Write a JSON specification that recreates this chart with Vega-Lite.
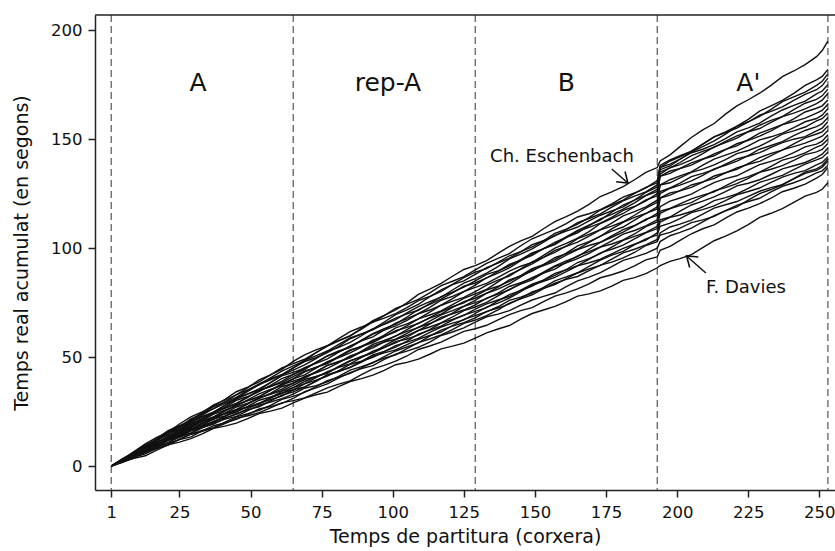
{
"$schema":"https://vega.github.io/schema/vega-lite/v6.json",
"width":740,"height":475,
"autosize":{"type":"none"},
"padding":{"left":95,"top":15,"right":0,"bottom":61},
"background":"white",
"config":{"view":{"stroke":null},"font":"DejaVu Sans",
"axis":{"grid":false,"domainColor":"#222","domainWidth":1.5,"tickColor":"#222","tickWidth":1.5,"tickSize":7,"labelColor":"#111","titleColor":"#111","labelFont":"DejaVu Sans","titleFont":"DejaVu Sans","labelFontSize":16.5,"titleFontSize":19,"titleFontWeight":"normal"}},
"datasets":{
"bounds":[{"x":1},{"x":65},{"x":129},{"x":193},{"x":253}],
"sections":[{"s":"A","mid":31.5},{"s":"rep-A","mid":98.3},{"s":"B","mid":161},{"s":"A'","mid":225}],
"notes":[{"who":"Ch. Eschenbach","lx":159.5,"ly":141.7,"x0":177,"y0":136.3,"x1":182.7,"y1":129.9},{"who":"F. Davies","lx":224.2,"ly":81.7,"x0":210.1,"y0":88.6,"x1":203.3,"y1":96.4}],
"perf":[
{"p":1,"x":1,"t":0},{"p":1,"x":9,"t":6.6},{"p":1,"x":17,"t":13.2},{"p":1,"x":25,"t":19.3},{"p":1,"x":33,"t":24.9},{"p":1,"x":41,"t":30.6},{"p":1,"x":49,"t":36.2},{"p":1,"x":57,"t":41.8},{"p":1,"x":65,"t":47},{"p":1,"x":73,"t":52},{"p":1,"x":81,"t":57.4},{"p":1,"x":89,"t":63.2},{"p":1,"x":97,"t":69.1},{"p":1,"x":105,"t":74.9},{"p":1,"x":113,"t":81.2},{"p":1,"x":121,"t":87.1},{"p":1,"x":129,"t":92},{"p":1,"x":137,"t":97.6},{"p":1,"x":145,"t":103.3},{"p":1,"x":153,"t":108.9},{"p":1,"x":161,"t":114.5},{"p":1,"x":169,"t":120.1},{"p":1,"x":177,"t":125.8},{"p":1,"x":185,"t":131.4},{"p":1,"x":193,"t":137},{"p":1,"x":194,"t":140},{"p":1,"x":201,"t":146.6},{"p":1,"x":209,"t":154.3},{"p":1,"x":217,"t":161.5},{"p":1,"x":225,"t":168.1},{"p":1,"x":233,"t":174.7},{"p":1,"x":241,"t":181.3},{"p":1,"x":249,"t":187.9},{"p":1,"x":253,"t":195},
{"p":2,"x":1,"t":0},{"p":2,"x":9,"t":5.8},{"p":2,"x":17,"t":12},{"p":2,"x":25,"t":18.2},{"p":2,"x":33,"t":24.5},{"p":2,"x":41,"t":30.2},{"p":2,"x":49,"t":36},{"p":2,"x":57,"t":41.8},{"p":2,"x":65,"t":48},{"p":2,"x":73,"t":53.3},{"p":2,"x":81,"t":58.5},{"p":2,"x":89,"t":63.8},{"p":2,"x":97,"t":69},{"p":2,"x":105,"t":74.3},{"p":2,"x":113,"t":79.5},{"p":2,"x":121,"t":84.8},{"p":2,"x":129,"t":90},{"p":2,"x":137,"t":95.3},{"p":2,"x":145,"t":101.1},{"p":2,"x":153,"t":106.4},{"p":2,"x":161,"t":111.3},{"p":2,"x":169,"t":115.8},{"p":2,"x":177,"t":120.3},{"p":2,"x":185,"t":125.3},{"p":2,"x":193,"t":131},{"p":2,"x":194,"t":138},{"p":2,"x":201,"t":142.4},{"p":2,"x":209,"t":147.7},{"p":2,"x":217,"t":153.4},{"p":2,"x":225,"t":159.1},{"p":2,"x":233,"t":165.3},{"p":2,"x":241,"t":171},{"p":2,"x":249,"t":177.2},{"p":2,"x":253,"t":182},
{"p":3,"x":1,"t":0},{"p":3,"x":9,"t":6},{"p":3,"x":17,"t":12},{"p":3,"x":25,"t":17.9},{"p":3,"x":33,"t":23.9},{"p":3,"x":41,"t":29.4},{"p":3,"x":49,"t":35},{"p":3,"x":57,"t":40.5},{"p":3,"x":65,"t":46},{"p":3,"x":73,"t":52},{"p":3,"x":81,"t":57.6},{"p":3,"x":89,"t":62.8},{"p":3,"x":97,"t":67.9},{"p":3,"x":105,"t":72.7},{"p":3,"x":113,"t":77.8},{"p":3,"x":121,"t":83.4},{"p":3,"x":129,"t":89},{"p":3,"x":137,"t":93.5},{"p":3,"x":145,"t":98.4},{"p":3,"x":153,"t":103.4},{"p":3,"x":161,"t":108.7},{"p":3,"x":169,"t":114},{"p":3,"x":177,"t":119.8},{"p":3,"x":185,"t":125.1},{"p":3,"x":193,"t":130},{"p":3,"x":194,"t":136},{"p":3,"x":201,"t":140.8},{"p":3,"x":209,"t":146.6},{"p":3,"x":217,"t":152.3},{"p":3,"x":225,"t":158},{"p":3,"x":233,"t":163.7},{"p":3,"x":241,"t":169.4},{"p":3,"x":249,"t":174.7},{"p":3,"x":253,"t":180},
{"p":4,"x":1,"t":0},{"p":4,"x":9,"t":6.3},{"p":4,"x":17,"t":12.6},{"p":4,"x":25,"t":18.5},{"p":4,"x":33,"t":23.9},{"p":4,"x":41,"t":29.3},{"p":4,"x":49,"t":34.7},{"p":4,"x":57,"t":40.1},{"p":4,"x":65,"t":45},{"p":4,"x":73,"t":49.7},{"p":4,"x":81,"t":54.9},{"p":4,"x":89,"t":60.5},{"p":4,"x":97,"t":66.1},{"p":4,"x":105,"t":71.7},{"p":4,"x":113,"t":77.7},{"p":4,"x":121,"t":83.3},{"p":4,"x":129,"t":88},{"p":4,"x":137,"t":93.1},{"p":4,"x":145,"t":98.3},{"p":4,"x":153,"t":103.4},{"p":4,"x":161,"t":108.5},{"p":4,"x":169,"t":113.6},{"p":4,"x":177,"t":118.8},{"p":4,"x":185,"t":123.9},{"p":4,"x":193,"t":129},{"p":4,"x":194,"t":137},{"p":4,"x":201,"t":141.9},{"p":4,"x":209,"t":147.7},{"p":4,"x":217,"t":153},{"p":4,"x":225,"t":157.9},{"p":4,"x":233,"t":162.8},{"p":4,"x":241,"t":167.8},{"p":4,"x":249,"t":172.7},{"p":4,"x":253,"t":178},
{"p":5,"x":1,"t":0},{"p":5,"x":9,"t":5.3},{"p":5,"x":17,"t":11},{"p":5,"x":25,"t":16.7},{"p":5,"x":33,"t":22.4},{"p":5,"x":41,"t":27.7},{"p":5,"x":49,"t":33},{"p":5,"x":57,"t":38.3},{"p":5,"x":65,"t":44},{"p":5,"x":73,"t":49.3},{"p":5,"x":81,"t":54.5},{"p":5,"x":89,"t":59.8},{"p":5,"x":97,"t":65},{"p":5,"x":105,"t":70.3},{"p":5,"x":113,"t":75.5},{"p":5,"x":121,"t":80.8},{"p":5,"x":129,"t":86},{"p":5,"x":137,"t":91.5},{"p":5,"x":145,"t":97.3},{"p":5,"x":153,"t":102.8},{"p":5,"x":161,"t":107.8},{"p":5,"x":169,"t":112.5},{"p":5,"x":177,"t":117.1},{"p":5,"x":185,"t":122.1},{"p":5,"x":193,"t":128},{"p":5,"x":194,"t":137},{"p":5,"x":201,"t":140.8},{"p":5,"x":209,"t":145.4},{"p":5,"x":217,"t":150.3},{"p":5,"x":225,"t":155.2},{"p":5,"x":233,"t":160.6},{"p":5,"x":241,"t":165.5},{"p":5,"x":249,"t":170.8},{"p":5,"x":253,"t":175},
{"p":6,"x":1,"t":0},{"p":6,"x":9,"t":5.9},{"p":6,"x":17,"t":11.7},{"p":6,"x":25,"t":17.6},{"p":6,"x":33,"t":23.4},{"p":6,"x":41,"t":28.8},{"p":6,"x":49,"t":34.2},{"p":6,"x":57,"t":39.6},{"p":6,"x":65,"t":45},{"p":6,"x":73,"t":50.6},{"p":6,"x":81,"t":55.8},{"p":6,"x":89,"t":60.6},{"p":6,"x":97,"t":65.4},{"p":6,"x":105,"t":69.8},{"p":6,"x":113,"t":74.6},{"p":6,"x":121,"t":79.8},{"p":6,"x":129,"t":85},{"p":6,"x":137,"t":89.6},{"p":6,"x":145,"t":94.7},{"p":6,"x":153,"t":99.7},{"p":6,"x":161,"t":105.2},{"p":6,"x":169,"t":110.6},{"p":6,"x":177,"t":116.5},{"p":6,"x":185,"t":122},{"p":6,"x":193,"t":127},{"p":6,"x":194,"t":134},{"p":6,"x":201,"t":138.3},{"p":6,"x":209,"t":143.4},{"p":6,"x":217,"t":148.4},{"p":6,"x":225,"t":153.5},{"p":6,"x":233,"t":158.6},{"p":6,"x":241,"t":163.6},{"p":6,"x":249,"t":168.3},{"p":6,"x":253,"t":173},
{"p":7,"x":1,"t":0},{"p":7,"x":9,"t":6},{"p":7,"x":17,"t":12},{"p":7,"x":25,"t":17.6},{"p":7,"x":33,"t":22.8},{"p":7,"x":41,"t":28},{"p":7,"x":49,"t":33.1},{"p":7,"x":57,"t":38.3},{"p":7,"x":65,"t":43},{"p":7,"x":73,"t":47.5},{"p":7,"x":81,"t":52.4},{"p":7,"x":89,"t":57.8},{"p":7,"x":97,"t":63.1},{"p":7,"x":105,"t":68.4},{"p":7,"x":113,"t":74.2},{"p":7,"x":121,"t":79.5},{"p":7,"x":129,"t":84},{"p":7,"x":137,"t":89.3},{"p":7,"x":145,"t":94.5},{"p":7,"x":153,"t":99.8},{"p":7,"x":161,"t":105},{"p":7,"x":169,"t":110.3},{"p":7,"x":177,"t":115.5},{"p":7,"x":185,"t":120.8},{"p":7,"x":193,"t":126},{"p":7,"x":194,"t":135},{"p":7,"x":201,"t":139.3},{"p":7,"x":209,"t":144.4},{"p":7,"x":217,"t":149},{"p":7,"x":225,"t":153.4},{"p":7,"x":233,"t":157.7},{"p":7,"x":241,"t":162},{"p":7,"x":249,"t":166.3},{"p":7,"x":253,"t":171},
{"p":8,"x":1,"t":0},{"p":8,"x":9,"t":5},{"p":8,"x":17,"t":10.5},{"p":8,"x":25,"t":16},{"p":8,"x":33,"t":21.4},{"p":8,"x":41,"t":26.5},{"p":8,"x":49,"t":31.5},{"p":8,"x":57,"t":36.5},{"p":8,"x":65,"t":42},{"p":8,"x":73,"t":47.1},{"p":8,"x":81,"t":52.3},{"p":8,"x":89,"t":57.4},{"p":8,"x":97,"t":62.5},{"p":8,"x":105,"t":67.6},{"p":8,"x":113,"t":72.8},{"p":8,"x":121,"t":77.9},{"p":8,"x":129,"t":83},{"p":8,"x":137,"t":88.5},{"p":8,"x":145,"t":94.3},{"p":8,"x":153,"t":99.8},{"p":8,"x":161,"t":104.8},{"p":8,"x":169,"t":109.5},{"p":8,"x":177,"t":114.1},{"p":8,"x":185,"t":119.1},{"p":8,"x":193,"t":125},{"p":8,"x":194,"t":133},{"p":8,"x":201,"t":136.5},{"p":8,"x":209,"t":140.7},{"p":8,"x":217,"t":145.3},{"p":8,"x":225,"t":149.8},{"p":8,"x":233,"t":154.7},{"p":8,"x":241,"t":159.3},{"p":8,"x":249,"t":164.2},{"p":8,"x":253,"t":168},
{"p":9,"x":1,"t":0},{"p":9,"x":9,"t":5.5},{"p":9,"x":17,"t":10.9},{"p":9,"x":25,"t":16.4},{"p":9,"x":33,"t":21.8},{"p":9,"x":41,"t":26.9},{"p":9,"x":49,"t":31.9},{"p":9,"x":57,"t":37},{"p":9,"x":65,"t":42},{"p":9,"x":73,"t":47.6},{"p":9,"x":81,"t":52.8},{"p":9,"x":89,"t":57.6},{"p":9,"x":97,"t":62.4},{"p":9,"x":105,"t":66.8},{"p":9,"x":113,"t":71.6},{"p":9,"x":121,"t":76.8},{"p":9,"x":129,"t":82},{"p":9,"x":137,"t":86.6},{"p":9,"x":145,"t":91.7},{"p":9,"x":153,"t":96.7},{"p":9,"x":161,"t":102.2},{"p":9,"x":169,"t":107.6},{"p":9,"x":177,"t":113.5},{"p":9,"x":185,"t":119},{"p":9,"x":193,"t":124},{"p":9,"x":194,"t":133},{"p":9,"x":201,"t":136.6},{"p":9,"x":209,"t":140.9},{"p":9,"x":217,"t":145.2},{"p":9,"x":225,"t":149.5},{"p":9,"x":233,"t":153.8},{"p":9,"x":241,"t":158.1},{"p":9,"x":249,"t":162},{"p":9,"x":253,"t":166},
{"p":10,"x":1,"t":0},{"p":10,"x":9,"t":5.7},{"p":10,"x":17,"t":11.5},{"p":10,"x":25,"t":16.8},{"p":10,"x":33,"t":21.7},{"p":10,"x":41,"t":26.7},{"p":10,"x":49,"t":31.6},{"p":10,"x":57,"t":36.5},{"p":10,"x":65,"t":41},{"p":10,"x":73,"t":45.3},{"p":10,"x":81,"t":50},{"p":10,"x":89,"t":55},{"p":10,"x":97,"t":60.1},{"p":10,"x":105,"t":65.2},{"p":10,"x":113,"t":70.6},{"p":10,"x":121,"t":75.7},{"p":10,"x":129,"t":80},{"p":10,"x":137,"t":85.3},{"p":10,"x":145,"t":90.5},{"p":10,"x":153,"t":95.8},{"p":10,"x":161,"t":101},{"p":10,"x":169,"t":106.3},{"p":10,"x":177,"t":111.5},{"p":10,"x":185,"t":116.8},{"p":10,"x":193,"t":122},{"p":10,"x":194,"t":129},{"p":10,"x":201,"t":133.2},{"p":10,"x":209,"t":138.1},{"p":10,"x":217,"t":142.7},{"p":10,"x":225,"t":146.9},{"p":10,"x":233,"t":151.1},{"p":10,"x":241,"t":155.3},{"p":10,"x":249,"t":159.5},{"p":10,"x":253,"t":164},
{"p":11,"x":1,"t":0},{"p":11,"x":9,"t":4.8},{"p":11,"x":17,"t":10},{"p":11,"x":25,"t":15.2},{"p":11,"x":33,"t":20.4},{"p":11,"x":41,"t":25.2},{"p":11,"x":49,"t":30},{"p":11,"x":57,"t":34.8},{"p":11,"x":65,"t":40},{"p":11,"x":73,"t":44.9},{"p":11,"x":81,"t":49.8},{"p":11,"x":89,"t":54.6},{"p":11,"x":97,"t":59.5},{"p":11,"x":105,"t":64.4},{"p":11,"x":113,"t":69.3},{"p":11,"x":121,"t":74.1},{"p":11,"x":129,"t":79},{"p":11,"x":137,"t":84.5},{"p":11,"x":145,"t":90.3},{"p":11,"x":153,"t":95.8},{"p":11,"x":161,"t":100.8},{"p":11,"x":169,"t":105.5},{"p":11,"x":177,"t":110.1},{"p":11,"x":185,"t":115.1},{"p":11,"x":193,"t":121},{"p":11,"x":194,"t":129},{"p":11,"x":201,"t":132.3},{"p":11,"x":209,"t":136.3},{"p":11,"x":217,"t":140.6},{"p":11,"x":225,"t":144.8},{"p":11,"x":233,"t":149.5},{"p":11,"x":241,"t":153.8},{"p":11,"x":249,"t":158.4},{"p":11,"x":253,"t":162},
{"p":12,"x":1,"t":0},{"p":12,"x":9,"t":5.2},{"p":12,"x":17,"t":10.4},{"p":12,"x":25,"t":15.6},{"p":12,"x":33,"t":20.8},{"p":12,"x":41,"t":25.6},{"p":12,"x":49,"t":30.4},{"p":12,"x":57,"t":35.2},{"p":12,"x":65,"t":40},{"p":12,"x":73,"t":45.3},{"p":12,"x":81,"t":50.3},{"p":12,"x":89,"t":54.8},{"p":12,"x":97,"t":59.4},{"p":12,"x":105,"t":63.6},{"p":12,"x":113,"t":68.1},{"p":12,"x":121,"t":73.1},{"p":12,"x":129,"t":78},{"p":12,"x":137,"t":82.5},{"p":12,"x":145,"t":87.4},{"p":12,"x":153,"t":92.4},{"p":12,"x":161,"t":97.7},{"p":12,"x":169,"t":103},{"p":12,"x":177,"t":108.8},{"p":12,"x":185,"t":114.1},{"p":12,"x":193,"t":119},{"p":12,"x":194,"t":125},{"p":12,"x":201,"t":128.9},{"p":12,"x":209,"t":133.4},{"p":12,"x":217,"t":138},{"p":12,"x":225,"t":142.5},{"p":12,"x":233,"t":147.1},{"p":12,"x":241,"t":151.6},{"p":12,"x":249,"t":155.8},{"p":12,"x":253,"t":160},
{"p":13,"x":1,"t":0},{"p":13,"x":9,"t":5.5},{"p":13,"x":17,"t":10.9},{"p":13,"x":25,"t":16},{"p":13,"x":33,"t":20.7},{"p":13,"x":41,"t":25.4},{"p":13,"x":49,"t":30},{"p":13,"x":57,"t":34.7},{"p":13,"x":65,"t":39},{"p":13,"x":73,"t":43.2},{"p":13,"x":81,"t":47.7},{"p":13,"x":89,"t":52.7},{"p":13,"x":97,"t":57.6},{"p":13,"x":105,"t":62.6},{"p":13,"x":113,"t":67.9},{"p":13,"x":121,"t":72.8},{"p":13,"x":129,"t":77},{"p":13,"x":137,"t":82.1},{"p":13,"x":145,"t":87.3},{"p":13,"x":153,"t":92.4},{"p":13,"x":161,"t":97.5},{"p":13,"x":169,"t":102.6},{"p":13,"x":177,"t":107.8},{"p":13,"x":185,"t":112.9},{"p":13,"x":193,"t":118},{"p":13,"x":194,"t":126},{"p":13,"x":201,"t":129.8},{"p":13,"x":209,"t":134.3},{"p":13,"x":217,"t":138.5},{"p":13,"x":225,"t":142.3},{"p":13,"x":233,"t":146.2},{"p":13,"x":241,"t":150},{"p":13,"x":249,"t":153.8},{"p":13,"x":253,"t":158},
{"p":14,"x":1,"t":0},{"p":14,"x":9,"t":4.6},{"p":14,"x":17,"t":9.5},{"p":14,"x":25,"t":14.4},{"p":14,"x":33,"t":19.4},{"p":14,"x":41,"t":23.9},{"p":14,"x":49,"t":28.5},{"p":14,"x":57,"t":33.1},{"p":14,"x":65,"t":38},{"p":14,"x":73,"t":42.8},{"p":14,"x":81,"t":47.5},{"p":14,"x":89,"t":52.3},{"p":14,"x":97,"t":57},{"p":14,"x":105,"t":61.8},{"p":14,"x":113,"t":66.5},{"p":14,"x":121,"t":71.3},{"p":14,"x":129,"t":76},{"p":14,"x":137,"t":81.2},{"p":14,"x":145,"t":86.8},{"p":14,"x":153,"t":92},{"p":14,"x":161,"t":96.8},{"p":14,"x":169,"t":101.2},{"p":14,"x":177,"t":105.6},{"p":14,"x":185,"t":110.4},{"p":14,"x":193,"t":116},{"p":14,"x":194,"t":123},{"p":14,"x":201,"t":126.3},{"p":14,"x":209,"t":130.3},{"p":14,"x":217,"t":134.6},{"p":14,"x":225,"t":138.8},{"p":14,"x":233,"t":143.5},{"p":14,"x":241,"t":147.8},{"p":14,"x":249,"t":152.4},{"p":14,"x":253,"t":156},
{"p":15,"x":1,"t":0},{"p":15,"x":9,"t":4.9},{"p":15,"x":17,"t":9.9},{"p":15,"x":25,"t":14.8},{"p":15,"x":33,"t":19.8},{"p":15,"x":41,"t":24.3},{"p":15,"x":49,"t":28.9},{"p":15,"x":57,"t":33.4},{"p":15,"x":65,"t":38},{"p":15,"x":73,"t":43.2},{"p":15,"x":81,"t":48},{"p":15,"x":89,"t":52.4},{"p":15,"x":97,"t":56.9},{"p":15,"x":105,"t":60.9},{"p":15,"x":113,"t":65.4},{"p":15,"x":121,"t":70.2},{"p":15,"x":129,"t":75},{"p":15,"x":137,"t":79.4},{"p":15,"x":145,"t":84.2},{"p":15,"x":153,"t":89},{"p":15,"x":161,"t":94.2},{"p":15,"x":169,"t":99.4},{"p":15,"x":177,"t":105},{"p":15,"x":185,"t":110.2},{"p":15,"x":193,"t":115},{"p":15,"x":194,"t":123},{"p":15,"x":201,"t":126.4},{"p":15,"x":209,"t":130.4},{"p":15,"x":217,"t":134.5},{"p":15,"x":225,"t":138.5},{"p":15,"x":233,"t":142.5},{"p":15,"x":241,"t":146.6},{"p":15,"x":249,"t":150.3},{"p":15,"x":253,"t":154},
{"p":16,"x":1,"t":0},{"p":16,"x":9,"t":5.2},{"p":16,"x":17,"t":10.4},{"p":16,"x":25,"t":15.2},{"p":16,"x":33,"t":19.6},{"p":16,"x":41,"t":24.1},{"p":16,"x":49,"t":28.5},{"p":16,"x":57,"t":32.9},{"p":16,"x":65,"t":37},{"p":16,"x":73,"t":41.1},{"p":16,"x":81,"t":45.5},{"p":16,"x":89,"t":50.3},{"p":16,"x":97,"t":55.1},{"p":16,"x":105,"t":59.9},{"p":16,"x":113,"t":65.1},{"p":16,"x":121,"t":69.9},{"p":16,"x":129,"t":74},{"p":16,"x":137,"t":78.9},{"p":16,"x":145,"t":83.8},{"p":16,"x":153,"t":88.6},{"p":16,"x":161,"t":93.5},{"p":16,"x":169,"t":98.4},{"p":16,"x":177,"t":103.3},{"p":16,"x":185,"t":108.1},{"p":16,"x":193,"t":113},{"p":16,"x":194,"t":119},{"p":16,"x":201,"t":123},{"p":16,"x":209,"t":127.6},{"p":16,"x":217,"t":131.9},{"p":16,"x":225,"t":135.8},{"p":16,"x":233,"t":139.8},{"p":16,"x":241,"t":143.8},{"p":16,"x":249,"t":147.7},{"p":16,"x":253,"t":152},
{"p":17,"x":1,"t":0},{"p":17,"x":9,"t":4.3},{"p":17,"x":17,"t":9},{"p":17,"x":25,"t":13.7},{"p":17,"x":33,"t":18.4},{"p":17,"x":41,"t":22.7},{"p":17,"x":49,"t":27},{"p":17,"x":57,"t":31.3},{"p":17,"x":65,"t":36},{"p":17,"x":73,"t":40.6},{"p":17,"x":81,"t":45.3},{"p":17,"x":89,"t":49.9},{"p":17,"x":97,"t":54.5},{"p":17,"x":105,"t":59.1},{"p":17,"x":113,"t":63.8},{"p":17,"x":121,"t":68.4},{"p":17,"x":129,"t":73},{"p":17,"x":137,"t":78.1},{"p":17,"x":145,"t":83.5},{"p":17,"x":153,"t":88.6},{"p":17,"x":161,"t":93.3},{"p":17,"x":169,"t":97.6},{"p":17,"x":177,"t":101.9},{"p":17,"x":185,"t":106.5},{"p":17,"x":193,"t":112},{"p":17,"x":194,"t":117},{"p":17,"x":201,"t":120.3},{"p":17,"x":209,"t":124.3},{"p":17,"x":217,"t":128.6},{"p":17,"x":225,"t":132.8},{"p":17,"x":233,"t":137.5},{"p":17,"x":241,"t":141.8},{"p":17,"x":249,"t":146.4},{"p":17,"x":253,"t":150},
{"p":18,"x":1,"t":0},{"p":18,"x":9,"t":4.7},{"p":18,"x":17,"t":9.4},{"p":18,"x":25,"t":14},{"p":18,"x":33,"t":18.7},{"p":18,"x":41,"t":23},{"p":18,"x":49,"t":27.4},{"p":18,"x":57,"t":31.7},{"p":18,"x":65,"t":36},{"p":18,"x":73,"t":41},{"p":18,"x":81,"t":45.7},{"p":18,"x":89,"t":50},{"p":18,"x":97,"t":54.4},{"p":18,"x":105,"t":58.3},{"p":18,"x":113,"t":62.6},{"p":18,"x":121,"t":67.3},{"p":18,"x":129,"t":72},{"p":18,"x":137,"t":76.2},{"p":18,"x":145,"t":80.7},{"p":18,"x":153,"t":85.3},{"p":18,"x":161,"t":90.2},{"p":18,"x":169,"t":95.2},{"p":18,"x":177,"t":100.5},{"p":18,"x":185,"t":105.4},{"p":18,"x":193,"t":110},{"p":18,"x":194,"t":116},{"p":18,"x":201,"t":119.5},{"p":18,"x":209,"t":123.7},{"p":18,"x":217,"t":127.8},{"p":18,"x":225,"t":132},{"p":18,"x":233,"t":136.2},{"p":18,"x":241,"t":140.3},{"p":18,"x":249,"t":144.2},{"p":18,"x":253,"t":148},
{"p":19,"x":1,"t":0},{"p":19,"x":9,"t":4.9},{"p":19,"x":17,"t":9.8},{"p":19,"x":25,"t":14.4},{"p":19,"x":33,"t":18.6},{"p":19,"x":41,"t":22.8},{"p":19,"x":49,"t":27},{"p":19,"x":57,"t":31.2},{"p":19,"x":65,"t":35},{"p":19,"x":73,"t":39},{"p":19,"x":81,"t":43.3},{"p":19,"x":89,"t":48},{"p":19,"x":97,"t":52.6},{"p":19,"x":105,"t":57.3},{"p":19,"x":113,"t":62.4},{"p":19,"x":121,"t":67},{"p":19,"x":129,"t":71},{"p":19,"x":137,"t":75.8},{"p":19,"x":145,"t":80.5},{"p":19,"x":153,"t":85.3},{"p":19,"x":161,"t":90},{"p":19,"x":169,"t":94.8},{"p":19,"x":177,"t":99.5},{"p":19,"x":185,"t":104.3},{"p":19,"x":193,"t":109},{"p":19,"x":194,"t":113},{"p":19,"x":201,"t":117},{"p":19,"x":209,"t":121.6},{"p":19,"x":217,"t":125.9},{"p":19,"x":225,"t":129.8},{"p":19,"x":233,"t":133.8},{"p":19,"x":241,"t":137.8},{"p":19,"x":249,"t":141.7},{"p":19,"x":253,"t":146},
{"p":20,"x":1,"t":0},{"p":20,"x":9,"t":4.2},{"p":20,"x":17,"t":8.8},{"p":20,"x":25,"t":13.3},{"p":20,"x":33,"t":17.9},{"p":20,"x":41,"t":22.1},{"p":20,"x":49,"t":26.3},{"p":20,"x":57,"t":30.5},{"p":20,"x":65,"t":35},{"p":20,"x":73,"t":39.4},{"p":20,"x":81,"t":43.8},{"p":20,"x":89,"t":48.1},{"p":20,"x":97,"t":52.5},{"p":20,"x":105,"t":56.9},{"p":20,"x":113,"t":61.3},{"p":20,"x":121,"t":65.6},{"p":20,"x":129,"t":70},{"p":20,"x":137,"t":74.8},{"p":20,"x":145,"t":80},{"p":20,"x":153,"t":84.8},{"p":20,"x":161,"t":89.2},{"p":20,"x":169,"t":93.3},{"p":20,"x":177,"t":97.4},{"p":20,"x":185,"t":101.8},{"p":20,"x":193,"t":107},{"p":20,"x":194,"t":112},{"p":20,"x":201,"t":115.2},{"p":20,"x":209,"t":119},{"p":20,"x":217,"t":123.2},{"p":20,"x":225,"t":127.4},{"p":20,"x":233,"t":131.8},{"p":20,"x":241,"t":136},{"p":20,"x":249,"t":140.5},{"p":20,"x":253,"t":144},
{"p":21,"x":1,"t":0},{"p":21,"x":9,"t":4.4},{"p":21,"x":17,"t":8.8},{"p":21,"x":25,"t":13.3},{"p":21,"x":33,"t":17.7},{"p":21,"x":41,"t":21.8},{"p":21,"x":49,"t":25.8},{"p":21,"x":57,"t":29.9},{"p":21,"x":65,"t":34},{"p":21,"x":73,"t":38.9},{"p":21,"x":81,"t":43.5},{"p":21,"x":89,"t":47.7},{"p":21,"x":97,"t":51.9},{"p":21,"x":105,"t":55.7},{"p":21,"x":113,"t":59.9},{"p":21,"x":121,"t":64.5},{"p":21,"x":129,"t":69},{"p":21,"x":137,"t":73.1},{"p":21,"x":145,"t":77.5},{"p":21,"x":153,"t":82},{"p":21,"x":161,"t":86.8},{"p":21,"x":169,"t":91.6},{"p":21,"x":177,"t":96.8},{"p":21,"x":185,"t":101.6},{"p":21,"x":193,"t":106},{"p":21,"x":194,"t":110},{"p":21,"x":201,"t":113.5},{"p":21,"x":209,"t":117.7},{"p":21,"x":217,"t":121.8},{"p":21,"x":225,"t":126},{"p":21,"x":233,"t":130.2},{"p":21,"x":241,"t":134.3},{"p":21,"x":249,"t":138.2},{"p":21,"x":253,"t":142},
{"p":22,"x":1,"t":0},{"p":22,"x":9,"t":4.6},{"p":22,"x":17,"t":9.2},{"p":22,"x":25,"t":13.5},{"p":22,"x":33,"t":17.5},{"p":22,"x":41,"t":21.5},{"p":22,"x":49,"t":25.4},{"p":22,"x":57,"t":29.4},{"p":22,"x":65,"t":33},{"p":22,"x":73,"t":36.9},{"p":22,"x":81,"t":41.1},{"p":22,"x":89,"t":45.6},{"p":22,"x":97,"t":50.2},{"p":22,"x":105,"t":54.7},{"p":22,"x":113,"t":59.6},{"p":22,"x":121,"t":64.2},{"p":22,"x":129,"t":68},{"p":22,"x":137,"t":72.5},{"p":22,"x":145,"t":77},{"p":22,"x":153,"t":81.5},{"p":22,"x":161,"t":86},{"p":22,"x":169,"t":90.5},{"p":22,"x":177,"t":95},{"p":22,"x":185,"t":99.5},{"p":22,"x":193,"t":104},{"p":22,"x":194,"t":107},{"p":22,"x":201,"t":111},{"p":22,"x":209,"t":115.6},{"p":22,"x":217,"t":119.9},{"p":22,"x":225,"t":123.8},{"p":22,"x":233,"t":127.8},{"p":22,"x":241,"t":131.8},{"p":22,"x":249,"t":135.7},{"p":22,"x":253,"t":140},
{"p":23,"x":1,"t":0},{"p":23,"x":9,"t":3.8},{"p":23,"x":17,"t":8},{"p":23,"x":25,"t":12.2},{"p":23,"x":33,"t":16.3},{"p":23,"x":41,"t":20.2},{"p":23,"x":49,"t":24},{"p":23,"x":57,"t":27.8},{"p":23,"x":65,"t":32},{"p":23,"x":73,"t":36.4},{"p":23,"x":81,"t":40.8},{"p":23,"x":89,"t":45.1},{"p":23,"x":97,"t":49.5},{"p":23,"x":105,"t":53.9},{"p":23,"x":113,"t":58.3},{"p":23,"x":121,"t":62.6},{"p":23,"x":129,"t":67},{"p":23,"x":137,"t":71.7},{"p":23,"x":145,"t":76.7},{"p":23,"x":153,"t":81.4},{"p":23,"x":161,"t":85.7},{"p":23,"x":169,"t":89.7},{"p":23,"x":177,"t":93.6},{"p":23,"x":185,"t":98},{"p":23,"x":193,"t":103},{"p":23,"x":194,"t":106},{"p":23,"x":201,"t":109.2},{"p":23,"x":209,"t":113},{"p":23,"x":217,"t":117.2},{"p":23,"x":225,"t":121.4},{"p":23,"x":233,"t":125.8},{"p":23,"x":241,"t":130},{"p":23,"x":249,"t":134.5},{"p":23,"x":253,"t":138},
{"p":24,"x":1,"t":0},{"p":24,"x":9,"t":4},{"p":24,"x":17,"t":8.1},{"p":24,"x":25,"t":12.1},{"p":24,"x":33,"t":16.1},{"p":24,"x":41,"t":19.8},{"p":24,"x":49,"t":23.6},{"p":24,"x":57,"t":27.3},{"p":24,"x":65,"t":31},{"p":24,"x":73,"t":35.9},{"p":24,"x":81,"t":40.5},{"p":24,"x":89,"t":44.7},{"p":24,"x":97,"t":48.9},{"p":24,"x":105,"t":52.7},{"p":24,"x":113,"t":56.9},{"p":24,"x":121,"t":61.5},{"p":24,"x":129,"t":66},{"p":24,"x":137,"t":69.7},{"p":24,"x":145,"t":73.8},{"p":24,"x":153,"t":77.9},{"p":24,"x":161,"t":82.3},{"p":24,"x":169,"t":86.7},{"p":24,"x":177,"t":91.5},{"p":24,"x":185,"t":95.9},{"p":24,"x":193,"t":100},{"p":24,"x":194,"t":103},{"p":24,"x":201,"t":107.2},{"p":24,"x":209,"t":112.1},{"p":24,"x":217,"t":117.1},{"p":24,"x":225,"t":122},{"p":24,"x":233,"t":126.9},{"p":24,"x":241,"t":131.9},{"p":24,"x":249,"t":136.4},{"p":24,"x":253,"t":141},
{"p":25,"x":1,"t":0},{"p":25,"x":9,"t":4.2},{"p":25,"x":17,"t":8.4},{"p":25,"x":25,"t":12.3},{"p":25,"x":33,"t":15.9},{"p":25,"x":41,"t":19.5},{"p":25,"x":49,"t":23.1},{"p":25,"x":57,"t":26.7},{"p":25,"x":65,"t":30},{"p":25,"x":73,"t":33.6},{"p":25,"x":81,"t":37.6},{"p":25,"x":89,"t":41.9},{"p":25,"x":97,"t":46.2},{"p":25,"x":105,"t":50.5},{"p":25,"x":113,"t":55.1},{"p":25,"x":121,"t":59.4},{"p":25,"x":129,"t":63},{"p":25,"x":137,"t":67.1},{"p":25,"x":145,"t":71.3},{"p":25,"x":153,"t":75.4},{"p":25,"x":161,"t":79.5},{"p":25,"x":169,"t":83.6},{"p":25,"x":177,"t":87.8},{"p":25,"x":185,"t":91.9},{"p":25,"x":193,"t":96},{"p":25,"x":194,"t":99},{"p":25,"x":201,"t":103.6},{"p":25,"x":209,"t":108.9},{"p":25,"x":217,"t":113.8},{"p":25,"x":225,"t":118.4},{"p":25,"x":233,"t":122.9},{"p":25,"x":241,"t":127.5},{"p":25,"x":249,"t":132.1},{"p":25,"x":253,"t":137},
{"p":26,"x":1,"t":0},{"p":26,"x":9,"t":3.5},{"p":26,"x":17,"t":7.3},{"p":26,"x":25,"t":11},{"p":26,"x":33,"t":14.8},{"p":26,"x":41,"t":18.3},{"p":26,"x":49,"t":21.8},{"p":26,"x":57,"t":25.2},{"p":26,"x":65,"t":29},{"p":26,"x":73,"t":32.7},{"p":26,"x":81,"t":36.4},{"p":26,"x":89,"t":40.1},{"p":26,"x":97,"t":43.9},{"p":26,"x":105,"t":47.6},{"p":26,"x":113,"t":51.3},{"p":26,"x":121,"t":55},{"p":26,"x":129,"t":58.7},{"p":26,"x":137,"t":62.9},{"p":26,"x":145,"t":67.4},{"p":26,"x":153,"t":71.6},{"p":26,"x":161,"t":75.5},{"p":26,"x":169,"t":79},{"p":26,"x":177,"t":82.6},{"p":26,"x":185,"t":86.5},{"p":26,"x":193,"t":91},{"p":26,"x":194,"t":92},{"p":26,"x":201,"t":95.2},{"p":26,"x":209,"t":100.2},{"p":26,"x":217,"t":105.5},{"p":26,"x":225,"t":110.8},{"p":26,"x":233,"t":116},{"p":26,"x":241,"t":121},{"p":26,"x":249,"t":125.6},{"p":26,"x":253,"t":130},
{"p":1,"x":5,"t":3.1},{"p":1,"x":13,"t":10.2},{"p":1,"x":21,"t":15.6},{"p":1,"x":29,"t":22.6},{"p":1,"x":37,"t":27.5},{"p":1,"x":45,"t":34.1},{"p":1,"x":53,"t":38.6},{"p":1,"x":61,"t":45},{"p":1,"x":69,"t":49},{"p":1,"x":77,"t":55},{"p":1,"x":85,"t":59.6},{"p":1,"x":93,"t":66.7},{"p":1,"x":101,"t":71.7},{"p":1,"x":109,"t":78.8},{"p":1,"x":117,"t":83.8},{"p":1,"x":125,"t":90.2},{"p":1,"x":133,"t":94.3},{"p":1,"x":141,"t":100.8},{"p":1,"x":149,"t":105.4},{"p":1,"x":157,"t":112.2},{"p":1,"x":165,"t":117},{"p":1,"x":173,"t":123.7},{"p":1,"x":181,"t":128.2},{"p":1,"x":189,"t":134.8},{"p":1,"x":197.5,"t":142.8},{"p":1,"x":205,"t":150.8},{"p":1,"x":213,"t":157.2},{"p":1,"x":221,"t":165.3},{"p":1,"x":229,"t":171.1},{"p":1,"x":237,"t":178.7},{"p":1,"x":245,"t":184.2},{"p":1,"x":251,"t":190.7},
{"p":2,"x":5,"t":3.1},{"p":2,"x":13,"t":8.2},{"p":2,"x":21,"t":15.6},{"p":2,"x":29,"t":21.1},{"p":2,"x":37,"t":28.1},{"p":2,"x":45,"t":32.7},{"p":2,"x":53,"t":39.5},{"p":2,"x":61,"t":44.4},{"p":2,"x":69,"t":51},{"p":2,"x":77,"t":55.2},{"p":2,"x":85,"t":61.7},{"p":2,"x":93,"t":66.1},{"p":2,"x":101,"t":72.4},{"p":2,"x":109,"t":76.5},{"p":2,"x":117,"t":82.8},{"p":2,"x":125,"t":86.9},{"p":2,"x":133,"t":93},{"p":2,"x":141,"t":97.5},{"p":2,"x":149,"t":104.3},{"p":2,"x":157,"t":108.6},{"p":2,"x":165,"t":114.3},{"p":2,"x":173,"t":117.7},{"p":2,"x":181,"t":123.4},{"p":2,"x":189,"t":127.7},{"p":2,"x":197.5,"t":140.5},{"p":2,"x":205,"t":144.4},{"p":2,"x":213,"t":151.1},{"p":2,"x":221,"t":156},{"p":2,"x":229,"t":162.9},{"p":2,"x":237,"t":167.8},{"p":2,"x":245,"t":174.7},{"p":2,"x":251,"t":178.8},
{"p":3,"x":5,"t":2.7},{"p":3,"x":13,"t":9.5},{"p":3,"x":21,"t":14.7},{"p":3,"x":29,"t":21.6},{"p":3,"x":37,"t":26.3},{"p":3,"x":45,"t":32.8},{"p":3,"x":53,"t":37.3},{"p":3,"x":61,"t":43.6},{"p":3,"x":69,"t":48.3},{"p":3,"x":77,"t":55.3},{"p":3,"x":85,"t":59.9},{"p":3,"x":93,"t":66.1},{"p":3,"x":101,"t":69.9},{"p":3,"x":109,"t":75.9},{"p":3,"x":117,"t":80.1},{"p":3,"x":125,"t":86.5},{"p":3,"x":133,"t":90.6},{"p":3,"x":141,"t":96.5},{"p":3,"x":149,"t":100.6},{"p":3,"x":157,"t":106.8},{"p":3,"x":165,"t":111},{"p":3,"x":173,"t":117.5},{"p":3,"x":181,"t":122},{"p":3,"x":189,"t":127.9},{"p":3,"x":197.5,"t":137.7},{"p":3,"x":205,"t":144.2},{"p":3,"x":213,"t":149.2},{"p":3,"x":221,"t":155.9},{"p":3,"x":229,"t":160.5},{"p":3,"x":237,"t":167.2},{"p":3,"x":245,"t":171.6},{"p":3,"x":251,"t":176.6},
{"p":4,"x":5,"t":3.4},{"p":4,"x":13,"t":9.2},{"p":4,"x":21,"t":16.3},{"p":4,"x":29,"t":20.8},{"p":4,"x":37,"t":27.2},{"p":4,"x":45,"t":31.5},{"p":4,"x":53,"t":37.7},{"p":4,"x":61,"t":41.9},{"p":4,"x":69,"t":47.9},{"p":4,"x":77,"t":52},{"p":4,"x":85,"t":58.4},{"p":4,"x":93,"t":62.9},{"p":4,"x":101,"t":69.5},{"p":4,"x":109,"t":74.2},{"p":4,"x":117,"t":80.8},{"p":4,"x":125,"t":85},{"p":4,"x":133,"t":91.1},{"p":4,"x":141,"t":95.4},{"p":4,"x":149,"t":101.6},{"p":4,"x":157,"t":105.6},{"p":4,"x":165,"t":111.7},{"p":4,"x":173,"t":115.7},{"p":4,"x":181,"t":121.7},{"p":4,"x":189,"t":125.8},{"p":4,"x":197.5,"t":140},{"p":4,"x":205,"t":144.5},{"p":4,"x":213,"t":151.1},{"p":4,"x":221,"t":155.1},{"p":4,"x":229,"t":161},{"p":4,"x":237,"t":164.8},{"p":4,"x":245,"t":170.6},{"p":4,"x":251,"t":174.6},
{"p":5,"x":5,"t":2.5},{"p":5,"x":13,"t":8.9},{"p":5,"x":21,"t":13.5},{"p":5,"x":29,"t":20.2},{"p":5,"x":37,"t":24.6},{"p":5,"x":45,"t":30.7},{"p":5,"x":53,"t":35},{"p":5,"x":61,"t":41.7},{"p":5,"x":69,"t":46.4},{"p":5,"x":77,"t":52.6},{"p":5,"x":85,"t":56.8},{"p":5,"x":93,"t":63},{"p":5,"x":101,"t":67.2},{"p":5,"x":109,"t":73.2},{"p":5,"x":117,"t":77.5},{"p":5,"x":125,"t":83.9},{"p":5,"x":133,"t":88.5},{"p":5,"x":141,"t":95.1},{"p":5,"x":149,"t":99.7},{"p":5,"x":157,"t":105.9},{"p":5,"x":165,"t":109.7},{"p":5,"x":173,"t":115.1},{"p":5,"x":181,"t":118.9},{"p":5,"x":189,"t":125.6},{"p":5,"x":197.5,"t":138.6},{"p":5,"x":205,"t":143.8},{"p":5,"x":213,"t":147.5},{"p":5,"x":221,"t":153.4},{"p":5,"x":229,"t":157.4},{"p":5,"x":237,"t":163.4},{"p":5,"x":245,"t":167.5},{"p":5,"x":251,"t":172.1},
{"p":6,"x":5,"t":3.3},{"p":6,"x":13,"t":8.4},{"p":6,"x":21,"t":15.3},{"p":6,"x":29,"t":20},{"p":6,"x":37,"t":26.4},{"p":6,"x":45,"t":30.8},{"p":6,"x":53,"t":37.4},{"p":6,"x":61,"t":42},{"p":6,"x":69,"t":48.5},{"p":6,"x":77,"t":52.8},{"p":6,"x":85,"t":58.8},{"p":6,"x":93,"t":62.5},{"p":6,"x":101,"t":67.9},{"p":6,"x":109,"t":71.5},{"p":6,"x":117,"t":77.7},{"p":6,"x":125,"t":82.1},{"p":6,"x":133,"t":88},{"p":6,"x":141,"t":91.8},{"p":6,"x":149,"t":97.8},{"p":6,"x":157,"t":102},{"p":6,"x":165,"t":108.2},{"p":6,"x":173,"t":112.9},{"p":6,"x":181,"t":119.8},{"p":6,"x":189,"t":124.2},{"p":6,"x":197.5,"t":136.9},{"p":6,"x":205,"t":140.5},{"p":6,"x":213,"t":146.5},{"p":6,"x":221,"t":150.5},{"p":6,"x":229,"t":156.4},{"p":6,"x":237,"t":160.4},{"p":6,"x":245,"t":166.5},{"p":6,"x":251,"t":169.9},
{"p":7,"x":5,"t":2.8},{"p":7,"x":13,"t":9.6},{"p":7,"x":21,"t":14.3},{"p":7,"x":29,"t":20.5},{"p":7,"x":37,"t":24.7},{"p":7,"x":45,"t":31.1},{"p":7,"x":53,"t":35.4},{"p":7,"x":61,"t":41.4},{"p":7,"x":69,"t":44.9},{"p":7,"x":77,"t":50.6},{"p":7,"x":85,"t":54.6},{"p":7,"x":93,"t":60.8},{"p":7,"x":101,"t":65.1},{"p":7,"x":109,"t":71.8},{"p":7,"x":117,"t":76.6},{"p":7,"x":125,"t":82.5},{"p":7,"x":133,"t":86.3},{"p":7,"x":141,"t":92.5},{"p":7,"x":149,"t":96.7},{"p":7,"x":157,"t":102.7},{"p":7,"x":165,"t":107},{"p":7,"x":173,"t":113.4},{"p":7,"x":181,"t":117.9},{"p":7,"x":189,"t":124.1},{"p":7,"x":197.5,"t":136.8},{"p":7,"x":205,"t":142.5},{"p":7,"x":213,"t":146.2},{"p":7,"x":221,"t":151.5},{"p":7,"x":229,"t":154.9},{"p":7,"x":237,"t":160.4},{"p":7,"x":245,"t":163.9},{"p":7,"x":251,"t":167.9},
{"p":8,"x":5,"t":2.8},{"p":8,"x":13,"t":7.3},{"p":8,"x":21,"t":13.6},{"p":8,"x":29,"t":18},{"p":8,"x":37,"t":24.5},{"p":8,"x":45,"t":28.7},{"p":8,"x":53,"t":34.7},{"p":8,"x":61,"t":38.9},{"p":8,"x":69,"t":45.2},{"p":8,"x":77,"t":49.2},{"p":8,"x":85,"t":55.2},{"p":8,"x":93,"t":59.3},{"p":8,"x":101,"t":65.6},{"p":8,"x":109,"t":69.9},{"p":8,"x":117,"t":76.1},{"p":8,"x":125,"t":80.1},{"p":8,"x":133,"t":86.4},{"p":8,"x":141,"t":90.9},{"p":8,"x":149,"t":97.4},{"p":8,"x":157,"t":101.6},{"p":8,"x":165,"t":107.7},{"p":8,"x":173,"t":111.5},{"p":8,"x":181,"t":117.3},{"p":8,"x":189,"t":121.7},{"p":8,"x":197.5,"t":135.4},{"p":8,"x":205,"t":138.1},{"p":8,"x":213,"t":143.3},{"p":8,"x":221,"t":146.9},{"p":8,"x":229,"t":152.8},{"p":8,"x":237,"t":156.7},{"p":8,"x":245,"t":162.5},{"p":8,"x":251,"t":165.3},
{"p":9,"x":5,"t":2.5},{"p":9,"x":13,"t":8.5},{"p":9,"x":21,"t":13},{"p":9,"x":29,"t":19.6},{"p":9,"x":37,"t":24.1},{"p":9,"x":45,"t":30.1},{"p":9,"x":53,"t":34.1},{"p":9,"x":61,"t":40.1},{"p":9,"x":69,"t":44.3},{"p":9,"x":77,"t":50.5},{"p":9,"x":85,"t":54.5},{"p":9,"x":93,"t":60.5},{"p":9,"x":101,"t":64.3},{"p":9,"x":109,"t":69.9},{"p":9,"x":117,"t":73.8},{"p":9,"x":125,"t":80},{"p":9,"x":133,"t":83.8},{"p":9,"x":141,"t":89.5},{"p":9,"x":149,"t":93.5},{"p":9,"x":157,"t":100},{"p":9,"x":165,"t":104.6},{"p":9,"x":173,"t":111.3},{"p":9,"x":181,"t":115.9},{"p":9,"x":189,"t":122.1},{"p":9,"x":197.5,"t":134.3},{"p":9,"x":205,"t":139.1},{"p":9,"x":213,"t":142.4},{"p":9,"x":221,"t":147.9},{"p":9,"x":229,"t":151.4},{"p":9,"x":237,"t":156.7},{"p":9,"x":245,"t":159.7},{"p":9,"x":251,"t":163.2},
{"p":10,"x":5,"t":3},{"p":10,"x":13,"t":7.9},{"p":10,"x":21,"t":14.7},{"p":10,"x":29,"t":19},{"p":10,"x":37,"t":24.9},{"p":10,"x":45,"t":28.8},{"p":10,"x":53,"t":34.7},{"p":10,"x":61,"t":38.3},{"p":10,"x":69,"t":43.5},{"p":10,"x":77,"t":47},{"p":10,"x":85,"t":53},{"p":10,"x":93,"t":57.3},{"p":10,"x":101,"t":63.4},{"p":10,"x":109,"t":67.5},{"p":10,"x":117,"t":73.8},{"p":10,"x":125,"t":77.4},{"p":10,"x":133,"t":83},{"p":10,"x":141,"t":87.2},{"p":10,"x":149,"t":93.7},{"p":10,"x":157,"t":98.1},{"p":10,"x":165,"t":104.4},{"p":10,"x":173,"t":108.5},{"p":10,"x":181,"t":114.8},{"p":10,"x":189,"t":118.9},{"p":10,"x":197.5,"t":131.4},{"p":10,"x":205,"t":135},{"p":10,"x":213,"t":140.9},{"p":10,"x":221,"t":144.5},{"p":10,"x":229,"t":149.7},{"p":10,"x":237,"t":152.8},{"p":10,"x":245,"t":158},{"p":10,"x":251,"t":161},
{"p":11,"x":5,"t":2.1},{"p":11,"x":13,"t":7.9},{"p":11,"x":21,"t":12.3},{"p":11,"x":29,"t":18.5},{"p":11,"x":37,"t":22.4},{"p":11,"x":45,"t":28.2},{"p":11,"x":53,"t":31.9},{"p":11,"x":61,"t":37.7},{"p":11,"x":69,"t":41.8},{"p":11,"x":77,"t":47.9},{"p":11,"x":85,"t":51.9},{"p":11,"x":93,"t":57.8},{"p":11,"x":101,"t":61.6},{"p":11,"x":109,"t":67.5},{"p":11,"x":117,"t":71.2},{"p":11,"x":125,"t":76.9},{"p":11,"x":133,"t":81.1},{"p":11,"x":141,"t":87.9},{"p":11,"x":149,"t":92.8},{"p":11,"x":157,"t":99},{"p":11,"x":165,"t":102.8},{"p":11,"x":173,"t":108.4},{"p":11,"x":181,"t":112.1},{"p":11,"x":189,"t":118.4},{"p":11,"x":197.5,"t":130},{"p":11,"x":205,"t":134.8},{"p":11,"x":213,"t":138.2},{"p":11,"x":221,"t":143.4},{"p":11,"x":229,"t":146.8},{"p":11,"x":237,"t":152.3},{"p":11,"x":245,"t":155.6},{"p":11,"x":251,"t":159.4},
{"p":12,"x":5,"t":2.9},{"p":12,"x":13,"t":7.5},{"p":12,"x":21,"t":13.7},{"p":12,"x":29,"t":17.8},{"p":12,"x":37,"t":23.8},{"p":12,"x":45,"t":27.5},{"p":12,"x":53,"t":33.1},{"p":12,"x":61,"t":36.9},{"p":12,"x":69,"t":43.2},{"p":12,"x":77,"t":47.5},{"p":12,"x":85,"t":53.3},{"p":12,"x":93,"t":56.7},{"p":12,"x":101,"t":62.1},{"p":12,"x":109,"t":65.4},{"p":12,"x":117,"t":70.9},{"p":12,"x":125,"t":74.9},{"p":12,"x":133,"t":80.8},{"p":12,"x":141,"t":84.7},{"p":12,"x":149,"t":90.6},{"p":12,"x":157,"t":94.7},{"p":12,"x":165,"t":101},{"p":12,"x":173,"t":105.4},{"p":12,"x":181,"t":111.8},{"p":12,"x":189,"t":115.9},{"p":12,"x":197.5,"t":127.5},{"p":12,"x":205,"t":130.9},{"p":12,"x":213,"t":136.4},{"p":12,"x":221,"t":139.9},{"p":12,"x":229,"t":145.4},{"p":12,"x":237,"t":148.9},{"p":12,"x":245,"t":154},{"p":12,"x":251,"t":157.1},
{"p":13,"x":5,"t":2.6},{"p":13,"x":13,"t":8.9},{"p":13,"x":21,"t":13.1},{"p":13,"x":29,"t":19},{"p":13,"x":37,"t":22.6},{"p":13,"x":45,"t":28},{"p":13,"x":53,"t":31.7},{"p":13,"x":61,"t":37.4},{"p":13,"x":69,"t":40.8},{"p":13,"x":77,"t":46.2},{"p":13,"x":85,"t":49.8},{"p":13,"x":93,"t":55.8},{"p":13,"x":101,"t":59.6},{"p":13,"x":109,"t":65.6},{"p":13,"x":117,"t":69.7},{"p":13,"x":125,"t":75.4},{"p":13,"x":133,"t":79.3},{"p":13,"x":141,"t":85.4},{"p":13,"x":149,"t":89.5},{"p":13,"x":157,"t":95.6},{"p":13,"x":165,"t":99.6},{"p":13,"x":173,"t":105.5},{"p":13,"x":181,"t":109.7},{"p":13,"x":189,"t":116},{"p":13,"x":197.5,"t":127.6},{"p":13,"x":205,"t":132.8},{"p":13,"x":213,"t":136},{"p":13,"x":221,"t":141},{"p":13,"x":229,"t":143.8},{"p":13,"x":237,"t":148.4},{"p":13,"x":245,"t":151.2},{"p":13,"x":251,"t":155.1},
{"p":14,"x":5,"t":2.7},{"p":14,"x":13,"t":6.7},{"p":14,"x":21,"t":12.6},{"p":14,"x":29,"t":16.4},{"p":14,"x":37,"t":22},{"p":14,"x":45,"t":25.5},{"p":14,"x":53,"t":31.3},{"p":14,"x":61,"t":35.3},{"p":14,"x":69,"t":41.1},{"p":14,"x":77,"t":44.8},{"p":14,"x":85,"t":50.5},{"p":14,"x":93,"t":54.2},{"p":14,"x":101,"t":59.7},{"p":14,"x":109,"t":63.5},{"p":14,"x":117,"t":69.4},{"p":14,"x":125,"t":73.4},{"p":14,"x":133,"t":79.3},{"p":14,"x":141,"t":83.6},{"p":14,"x":149,"t":90},{"p":14,"x":157,"t":93.9},{"p":14,"x":165,"t":99.3},{"p":14,"x":173,"t":102.7},{"p":14,"x":181,"t":108.5},{"p":14,"x":189,"t":112.9},{"p":14,"x":197.5,"t":125.4},{"p":14,"x":205,"t":127.9},{"p":14,"x":213,"t":133.1},{"p":14,"x":221,"t":136.2},{"p":14,"x":229,"t":141.5},{"p":14,"x":237,"t":145},{"p":14,"x":245,"t":150.6},{"p":14,"x":251,"t":153.4},
{"p":15,"x":5,"t":2.3},{"p":15,"x":13,"t":8},{"p":15,"x":21,"t":11.9},{"p":15,"x":29,"t":17.6},{"p":15,"x":37,"t":21.4},{"p":15,"x":45,"t":27.1},{"p":15,"x":53,"t":30.9},{"p":15,"x":61,"t":36.4},{"p":15,"x":69,"t":40.2},{"p":15,"x":77,"t":46.2},{"p":15,"x":85,"t":49.7},{"p":15,"x":93,"t":55},{"p":15,"x":101,"t":58.2},{"p":15,"x":109,"t":63.7},{"p":15,"x":117,"t":67.5},{"p":15,"x":125,"t":73.3},{"p":15,"x":133,"t":76.8},{"p":15,"x":141,"t":82.4},{"p":15,"x":149,"t":86.1},{"p":15,"x":157,"t":91.9},{"p":15,"x":165,"t":96.1},{"p":15,"x":173,"t":102.7},{"p":15,"x":181,"t":107.3},{"p":15,"x":189,"t":113.3},{"p":15,"x":197.5,"t":124.3},{"p":15,"x":205,"t":129},{"p":15,"x":213,"t":132},{"p":15,"x":221,"t":136.8},{"p":15,"x":229,"t":139.8},{"p":15,"x":237,"t":145.1},{"p":15,"x":245,"t":148.2},{"p":15,"x":251,"t":151.4},
{"p":16,"x":5,"t":2.9},{"p":16,"x":13,"t":7.3},{"p":16,"x":21,"t":13.1},{"p":16,"x":29,"t":16.7},{"p":16,"x":37,"t":22.4},{"p":16,"x":45,"t":26},{"p":16,"x":53,"t":31.4},{"p":16,"x":61,"t":34.6},{"p":16,"x":69,"t":39.7},{"p":16,"x":77,"t":42.8},{"p":16,"x":85,"t":48.2},{"p":16,"x":93,"t":52},{"p":16,"x":101,"t":58},{"p":16,"x":109,"t":62.2},{"p":16,"x":117,"t":68.2},{"p":16,"x":125,"t":71.6},{"p":16,"x":133,"t":77.1},{"p":16,"x":141,"t":80.9},{"p":16,"x":149,"t":86.5},{"p":16,"x":157,"t":90.4},{"p":16,"x":165,"t":96.5},{"p":16,"x":173,"t":100.6},{"p":16,"x":181,"t":106.4},{"p":16,"x":189,"t":110.2},{"p":16,"x":197.5,"t":121.6},{"p":16,"x":205,"t":124.8},{"p":16,"x":213,"t":130.1},{"p":16,"x":221,"t":133.2},{"p":16,"x":229,"t":138.3},{"p":16,"x":237,"t":141.5},{"p":16,"x":245,"t":146.5},{"p":16,"x":251,"t":149.1},
{"p":17,"x":5,"t":1.9},{"p":17,"x":13,"t":7},{"p":17,"x":21,"t":10.7},{"p":17,"x":29,"t":16.6},{"p":17,"x":37,"t":20.3},{"p":17,"x":45,"t":25.6},{"p":17,"x":53,"t":28.8},{"p":17,"x":61,"t":34.3},{"p":17,"x":69,"t":37.8},{"p":17,"x":77,"t":43.3},{"p":17,"x":85,"t":46.9},{"p":17,"x":93,"t":52.7},{"p":17,"x":101,"t":56.5},{"p":17,"x":109,"t":62.2},{"p":17,"x":117,"t":65.7},{"p":17,"x":125,"t":71.3},{"p":17,"x":133,"t":75.1},{"p":17,"x":141,"t":81.1},{"p":17,"x":149,"t":85.4},{"p":17,"x":157,"t":91.5},{"p":17,"x":165,"t":95.2},{"p":17,"x":173,"t":100.5},{"p":17,"x":181,"t":103.8},{"p":17,"x":189,"t":109.9},{"p":17,"x":197.5,"t":118.2},{"p":17,"x":205,"t":122.6},{"p":17,"x":213,"t":125.8},{"p":17,"x":221,"t":131.2},{"p":17,"x":229,"t":134.9},{"p":17,"x":237,"t":140.4},{"p":17,"x":245,"t":143.7},{"p":17,"x":251,"t":147.4},
{"p":18,"x":5,"t":2.5},{"p":18,"x":13,"t":6.4},{"p":18,"x":21,"t":12.2},{"p":18,"x":29,"t":16.1},{"p":18,"x":37,"t":21.6},{"p":18,"x":45,"t":24.8},{"p":18,"x":53,"t":30.2},{"p":18,"x":61,"t":33.4},{"p":18,"x":69,"t":38.8},{"p":18,"x":77,"t":42.7},{"p":18,"x":85,"t":48.4},{"p":18,"x":93,"t":51.9},{"p":18,"x":101,"t":57.1},{"p":18,"x":109,"t":60.1},{"p":18,"x":117,"t":65.6},{"p":18,"x":125,"t":69.2},{"p":18,"x":133,"t":74.4},{"p":18,"x":141,"t":77.8},{"p":18,"x":149,"t":83.5},{"p":18,"x":157,"t":87.5},{"p":18,"x":165,"t":93.4},{"p":18,"x":173,"t":97.5},{"p":18,"x":181,"t":103.6},{"p":18,"x":189,"t":107.2},{"p":18,"x":197.5,"t":118.1},{"p":18,"x":205,"t":120.9},{"p":18,"x":213,"t":126.3},{"p":18,"x":221,"t":129.6},{"p":18,"x":229,"t":134.8},{"p":18,"x":237,"t":137.9},{"p":18,"x":245,"t":142.9},{"p":18,"x":251,"t":145.3},
{"p":19,"x":5,"t":2.1},{"p":19,"x":13,"t":7.9},{"p":19,"x":21,"t":11.8},{"p":19,"x":29,"t":17.2},{"p":19,"x":37,"t":20.3},{"p":19,"x":45,"t":25.5},{"p":19,"x":53,"t":28.6},{"p":19,"x":61,"t":33.4},{"p":19,"x":69,"t":36.3},{"p":19,"x":77,"t":41.7},{"p":19,"x":85,"t":45.4},{"p":19,"x":93,"t":51},{"p":19,"x":101,"t":54.6},{"p":19,"x":109,"t":60.5},{"p":19,"x":117,"t":64.2},{"p":19,"x":125,"t":69.3},{"p":19,"x":133,"t":72.7},{"p":19,"x":141,"t":78.7},{"p":19,"x":149,"t":82.6},{"p":19,"x":157,"t":88.4},{"p":19,"x":165,"t":92},{"p":19,"x":173,"t":97.8},{"p":19,"x":181,"t":101.4},{"p":19,"x":189,"t":107},{"p":19,"x":197.5,"t":114.3},{"p":19,"x":205,"t":119.8},{"p":19,"x":213,"t":123.5},{"p":19,"x":221,"t":128.6},{"p":19,"x":229,"t":131.4},{"p":19,"x":237,"t":136.4},{"p":19,"x":245,"t":139.3},{"p":19,"x":251,"t":143.1},
{"p":20,"x":5,"t":2.4},{"p":20,"x":13,"t":6.2},{"p":20,"x":21,"t":11.8},{"p":20,"x":29,"t":15.2},{"p":20,"x":37,"t":20.6},{"p":20,"x":45,"t":23.7},{"p":20,"x":53,"t":28.7},{"p":20,"x":61,"t":32.1},{"p":20,"x":69,"t":37.7},{"p":20,"x":77,"t":41.3},{"p":20,"x":85,"t":46.7},{"p":20,"x":93,"t":49.9},{"p":20,"x":101,"t":55.3},{"p":20,"x":109,"t":58.6},{"p":20,"x":117,"t":63.8},{"p":20,"x":125,"t":67.1},{"p":20,"x":133,"t":72.9},{"p":20,"x":141,"t":77.1},{"p":20,"x":149,"t":83.1},{"p":20,"x":157,"t":86.6},{"p":20,"x":165,"t":91.9},{"p":20,"x":173,"t":94.9},{"p":20,"x":181,"t":99.9},{"p":20,"x":189,"t":103.7},{"p":20,"x":197.5,"t":114.1},{"p":20,"x":205,"t":116.8},{"p":20,"x":213,"t":121.8},{"p":20,"x":221,"t":124.9},{"p":20,"x":229,"t":130.2},{"p":20,"x":237,"t":133.4},{"p":20,"x":245,"t":138.6},{"p":20,"x":251,"t":141.5},
{"p":21,"x":5,"t":2.1},{"p":21,"x":13,"t":7.3},{"p":21,"x":21,"t":10.7},{"p":21,"x":29,"t":16.1},{"p":21,"x":37,"t":19.3},{"p":21,"x":45,"t":24.1},{"p":21,"x":53,"t":27.2},{"p":21,"x":61,"t":32.5},{"p":21,"x":69,"t":36.2},{"p":21,"x":77,"t":41.9},{"p":21,"x":85,"t":45.2},{"p":21,"x":93,"t":50.4},{"p":21,"x":101,"t":53.3},{"p":21,"x":109,"t":58.1},{"p":21,"x":117,"t":61.5},{"p":21,"x":125,"t":67.3},{"p":21,"x":133,"t":70.8},{"p":21,"x":141,"t":76},{"p":21,"x":149,"t":79.4},{"p":21,"x":157,"t":85},{"p":21,"x":165,"t":88.7},{"p":21,"x":173,"t":94.5},{"p":21,"x":181,"t":98.5},{"p":21,"x":189,"t":104.3},{"p":21,"x":197.5,"t":111.5},{"p":21,"x":205,"t":116.3},{"p":21,"x":213,"t":119.4},{"p":21,"x":221,"t":124.5},{"p":21,"x":229,"t":127.6},{"p":21,"x":237,"t":132.6},{"p":21,"x":245,"t":135.6},{"p":21,"x":251,"t":139.3},
{"p":22,"x":5,"t":2.7},{"p":22,"x":13,"t":6.5},{"p":22,"x":21,"t":12},{"p":22,"x":29,"t":15},{"p":22,"x":37,"t":19.8},{"p":22,"x":45,"t":22.8},{"p":22,"x":53,"t":27.9},{"p":22,"x":61,"t":30.9},{"p":22,"x":69,"t":35.7},{"p":22,"x":77,"t":38.6},{"p":22,"x":85,"t":44},{"p":22,"x":93,"t":47.4},{"p":22,"x":101,"t":52.8},{"p":22,"x":109,"t":56.5},{"p":22,"x":117,"t":62.4},{"p":22,"x":125,"t":65.8},{"p":22,"x":133,"t":71},{"p":22,"x":141,"t":74.4},{"p":22,"x":149,"t":79.9},{"p":22,"x":157,"t":83.3},{"p":22,"x":165,"t":88.6},{"p":22,"x":173,"t":92.1},{"p":22,"x":181,"t":97.8},{"p":22,"x":189,"t":101.5},{"p":22,"x":197.5,"t":109.7},{"p":22,"x":205,"t":112.9},{"p":22,"x":213,"t":118.4},{"p":22,"x":221,"t":121.4},{"p":22,"x":229,"t":126.1},{"p":22,"x":237,"t":129.1},{"p":22,"x":245,"t":134.3},{"p":22,"x":251,"t":137.1},
{"p":23,"x":5,"t":1.7},{"p":23,"x":13,"t":6.5},{"p":23,"x":21,"t":9.6},{"p":23,"x":29,"t":14.6},{"p":23,"x":37,"t":17.6},{"p":23,"x":45,"t":22.6},{"p":23,"x":53,"t":25.6},{"p":23,"x":61,"t":30.6},{"p":23,"x":69,"t":33.8},{"p":23,"x":77,"t":39.2},{"p":23,"x":85,"t":42.5},{"p":23,"x":93,"t":47.6},{"p":23,"x":101,"t":51},{"p":23,"x":109,"t":56.6},{"p":23,"x":117,"t":60.2},{"p":23,"x":125,"t":65.5},{"p":23,"x":133,"t":69},{"p":23,"x":141,"t":74.8},{"p":23,"x":149,"t":78.6},{"p":23,"x":157,"t":83.9},{"p":23,"x":165,"t":87},{"p":23,"x":173,"t":92.2},{"p":23,"x":181,"t":95.5},{"p":23,"x":189,"t":101.2},{"p":23,"x":197.5,"t":107.2},{"p":23,"x":205,"t":111.7},{"p":23,"x":213,"t":114.6},{"p":23,"x":221,"t":119.6},{"p":23,"x":229,"t":122.9},{"p":23,"x":237,"t":128.4},{"p":23,"x":245,"t":132},{"p":23,"x":251,"t":135.5},
{"p":24,"x":5,"t":2.3},{"p":24,"x":13,"t":5.6},{"p":24,"x":21,"t":10.4},{"p":24,"x":29,"t":13.4},{"p":24,"x":37,"t":18.5},{"p":24,"x":45,"t":21.4},{"p":24,"x":53,"t":26.2},{"p":24,"x":61,"t":28.8},{"p":24,"x":69,"t":34.1},{"p":24,"x":77,"t":37.7},{"p":24,"x":85,"t":42.9},{"p":24,"x":93,"t":46.1},{"p":24,"x":101,"t":51.3},{"p":24,"x":109,"t":54.5},{"p":24,"x":117,"t":59.9},{"p":24,"x":125,"t":63.4},{"p":24,"x":133,"t":68.5},{"p":24,"x":141,"t":71.3},{"p":24,"x":149,"t":76.2},{"p":24,"x":157,"t":79.4},{"p":24,"x":165,"t":85},{"p":24,"x":173,"t":88.8},{"p":24,"x":181,"t":94.4},{"p":24,"x":189,"t":97.6},{"p":24,"x":197.5,"t":105.7},{"p":24,"x":205,"t":109.2},{"p":24,"x":213,"t":114.9},{"p":24,"x":221,"t":118.9},{"p":24,"x":229,"t":125},{"p":24,"x":237,"t":129.1},{"p":24,"x":245,"t":134.9},{"p":24,"x":251,"t":137.9},
{"p":25,"x":5,"t":1.9},{"p":25,"x":13,"t":6.6},{"p":25,"x":21,"t":9.7},{"p":25,"x":29,"t":14.6},{"p":25,"x":37,"t":17.4},{"p":25,"x":45,"t":22},{"p":25,"x":53,"t":24.5},{"p":25,"x":61,"t":29},{"p":25,"x":69,"t":31.3},{"p":25,"x":77,"t":35.9},{"p":25,"x":85,"t":39.1},{"p":25,"x":93,"t":44.6},{"p":25,"x":101,"t":48.1},{"p":25,"x":109,"t":53.5},{"p":25,"x":117,"t":56.9},{"p":25,"x":125,"t":61.8},{"p":25,"x":133,"t":64.6},{"p":25,"x":141,"t":69.5},{"p":25,"x":149,"t":72.7},{"p":25,"x":157,"t":78},{"p":25,"x":165,"t":81.3},{"p":25,"x":173,"t":86.4},{"p":25,"x":181,"t":89.5},{"p":25,"x":189,"t":94.6},{"p":25,"x":197.5,"t":100.8},{"p":25,"x":205,"t":106.6},{"p":25,"x":213,"t":110.7},{"p":25,"x":221,"t":116.6},{"p":25,"x":229,"t":120.4},{"p":25,"x":237,"t":125.9},{"p":25,"x":245,"t":129.4},{"p":25,"x":251,"t":133.8},
{"p":26,"x":5,"t":1.9},{"p":26,"x":13,"t":4.7},{"p":26,"x":21,"t":9.7},{"p":26,"x":29,"t":12.6},{"p":26,"x":37,"t":17.3},{"p":26,"x":45,"t":19.7},{"p":26,"x":53,"t":24.1},{"p":26,"x":61,"t":26.6},{"p":26,"x":69,"t":31.2},{"p":26,"x":77,"t":33.9},{"p":26,"x":85,"t":38.8},{"p":26,"x":93,"t":41.7},{"p":26,"x":101,"t":46.5},{"p":26,"x":109,"t":49.1},{"p":26,"x":117,"t":53.8},{"p":26,"x":125,"t":56.4},{"p":26,"x":133,"t":61.1},{"p":26,"x":141,"t":64.5},{"p":26,"x":149,"t":70},{"p":26,"x":157,"t":73.3},{"p":26,"x":165,"t":78},{"p":26,"x":173,"t":80.4},{"p":26,"x":181,"t":85.2},{"p":26,"x":189,"t":88.3},{"p":26,"x":197.5,"t":93.9},{"p":26,"x":205,"t":97},{"p":26,"x":213,"t":103.4},{"p":26,"x":221,"t":107.9},{"p":26,"x":229,"t":114.1},{"p":26,"x":237,"t":118.1},{"p":26,"x":245,"t":123.9},{"p":26,"x":251,"t":127}
]},
"layer":[
{"data":{"name":"bounds"},"mark":{"type":"rule","color":"#555","strokeDash":[7,4],"strokeWidth":1.2},
 "encoding":{"x":{"field":"x","type":"quantitative","scale":{"domain":[-4.7,255.5],"nice":false,"zero":false},
  "axis":{"values":[1,25,50,75,100,125,150,175,200,225,250],"title":"Temps de partitura (corxera)","labelPadding":7,"titlePadding":7}}}},
{"data":{"values":[{}]},"mark":{"type":"rule","color":"#222","strokeWidth":1.5},"encoding":{"y":{"datum":207}}},
{"data":{"name":"perf"},"mark":{"type":"line","color":"#111","strokeWidth":1.4},
 "encoding":{"x":{"field":"x","type":"quantitative"},
  "y":{"field":"t","type":"quantitative","scale":{"domain":[-11,207],"nice":false,"zero":false},
   "axis":{"values":[0,50,100,150,200],"title":"Temps real acumulat (en segons)","labelPadding":6,"titlePadding":19}},
  "detail":{"field":"p","type":"nominal"}}},
{"data":{"name":"sections"},"mark":{"type":"text","fontSize":25,"color":"#111","baseline":"middle","align":"center"},
 "encoding":{"x":{"field":"mid","type":"quantitative"},"y":{"datum":175.8},"text":{"field":"s"}}},
{"data":{"name":"notes"},"mark":{"type":"text","fontSize":18,"color":"#111","baseline":"middle","align":"center"},
 "encoding":{"x":{"field":"lx","type":"quantitative"},"y":{"field":"ly","type":"quantitative"},"text":{"field":"who"}}},
{"data":{"name":"notes"},"mark":{"type":"rule","color":"#111","strokeWidth":1.5},
 "encoding":{"x":{"field":"x0","type":"quantitative"},"y":{"field":"y0","type":"quantitative"},"x2":{"field":"x1"},"y2":{"field":"y1"}}},
{"data":{"name":"notes"},"transform":[{"filter":"datum.who == 'Ch. Eschenbach'"}],
 "mark":{"type":"point","shape":"M -1 -0.7 L 0 0 L -1 0.7","filled":false,"stroke":"#111","strokeWidth":1.6,"size":380,"angle":40.7,"opacity":1},
 "encoding":{"x":{"field":"x1","type":"quantitative"},"y":{"field":"y1","type":"quantitative"}}},
{"data":{"name":"notes"},"transform":[{"filter":"datum.who == 'F. Davies'"}],
 "mark":{"type":"point","shape":"M -1 -0.7 L 0 0 L -1 0.7","filled":false,"stroke":"#111","strokeWidth":1.6,"size":380,"angle":219.7,"opacity":1},
 "encoding":{"x":{"field":"x1","type":"quantitative"},"y":{"field":"y1","type":"quantitative"}}}
]
}
